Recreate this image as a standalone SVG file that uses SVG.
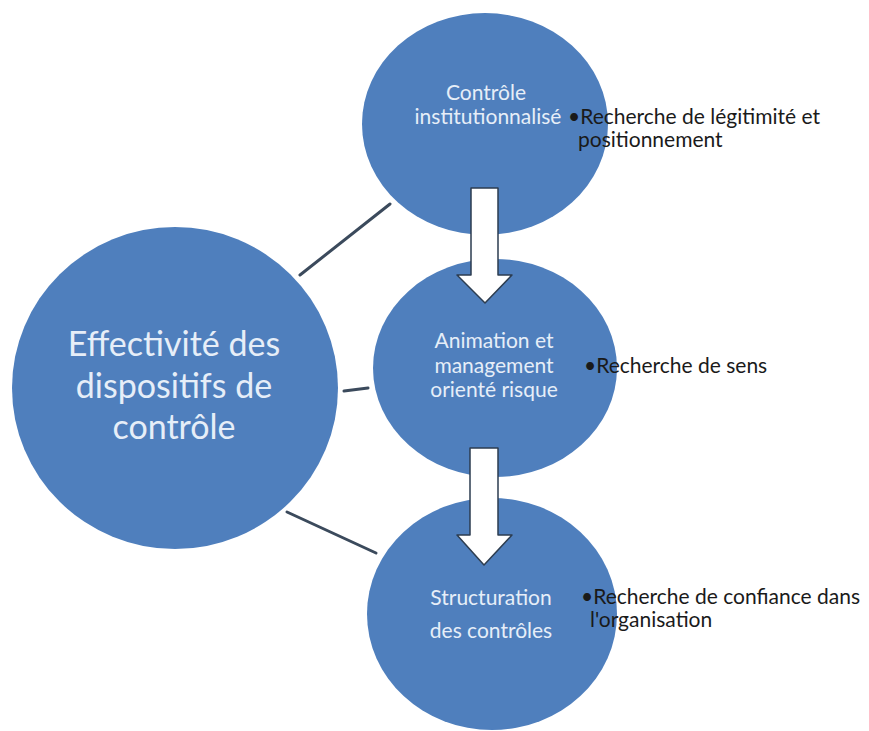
<svg xmlns="http://www.w3.org/2000/svg" width="869" height="731" viewBox="0 0 869 731">
<style>
.node{fill:#4f7fbd}
.lbl{fill:#e6eef8;font-family:Lato,"Liberation Sans",sans-serif;text-anchor:middle}
.bul{fill:#1a1a1a;font-family:Lato,"Liberation Sans",sans-serif;font-size:21px}
.conn{stroke:#3b4a5c;stroke-width:3;stroke-linecap:round}
.arrow{fill:#ffffff;stroke:#2d3d50;stroke-width:1.5;stroke-linejoin:round}
</style>
<rect width="869" height="731" fill="#ffffff"/>
<g id="connectors">
<line class="conn" x1="300" y1="275" x2="390" y2="204"/>
<line class="conn" x1="344" y1="391" x2="368" y2="388"/>
<line class="conn" x1="287" y1="512" x2="376" y2="553"/>
</g>
<g id="node-main">
<ellipse class="node" cx="175" cy="388" rx="163" ry="161"/>
<text class="lbl" font-size="34" x="174" y="356">Effectivité des</text>
<text class="lbl" font-size="34" x="174" y="398">dispositifs de</text>
<text class="lbl" font-size="34" x="174" y="439">contrôle</text>
</g>
<g id="node-controle">
<ellipse class="node" cx="485" cy="124" rx="123" ry="111"/>
<text class="lbl" font-size="21" x="486" y="100">Contrôle</text>
<text class="lbl" font-size="21" x="488" y="124">institutionnalisé</text>
</g>
<g id="node-animation">
<ellipse class="node" cx="495" cy="368" rx="122" ry="109"/>
<text class="lbl" font-size="21" x="494" y="348">Animation et</text>
<text class="lbl" font-size="21" x="494" y="373">management</text>
<text class="lbl" font-size="21" x="494" y="397">orienté risque</text>
</g>
<g id="node-structuration">
<ellipse class="node" cx="492" cy="614" rx="125" ry="116"/>
<text class="lbl" font-size="21" x="491" y="605">Structuration</text>
<text class="lbl" font-size="21" x="491" y="638">des contrôles</text>
</g>
<g id="arrow-1">
<path class="arrow" d="M471 188 H498 V275 H512 L485 303 L457 275 H471 Z"/>
</g>
<g id="arrow-2">
<path class="arrow" d="M470 448 H498 V535 H512 L484 565 L457 535 H470 Z"/>
</g>
<g id="bullets">
<text class="bul" x="568" y="124">•Recherche de légitimité et</text>
<text class="bul" x="578" y="147">positionnement</text>
<text class="bul" x="584" y="373">•Recherche de sens</text>
<text class="bul" x="581" y="604">•Recherche de confiance dans</text>
<text class="bul" x="590" y="627">l'organisation</text>
</g>
</svg>
